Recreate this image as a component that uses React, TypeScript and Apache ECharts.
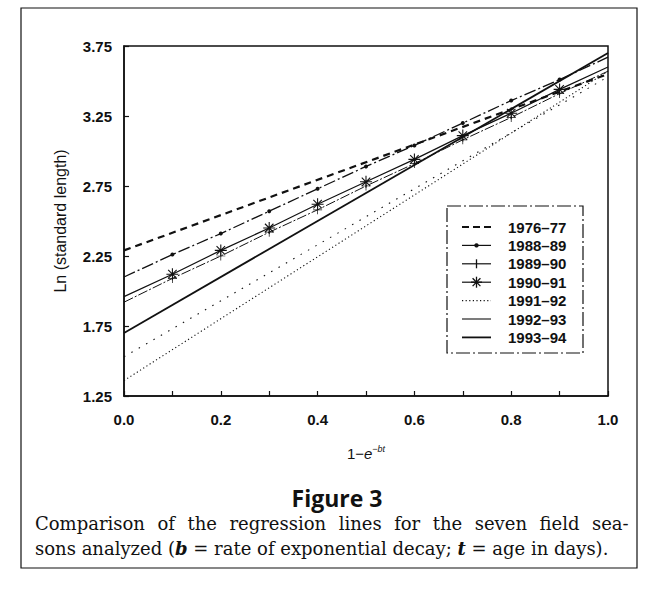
import React, { useEffect, useRef } from "react";
import * as echarts from "echarts";

// x positions of the regression-line vertices (0, 0.1, ..., 1.0)
const xSteps = [0, 0.1, 0.2, 0.3, 0.4, 0.5, 0.6, 0.7, 0.8, 0.9, 1.0];
const xEnds = [0, 1];

// Ln(standard length) values
const s1976 = [2.29, 3.55];
const s1988 = [2.1, 2.26, 2.41, 2.57, 2.73, 2.89, 3.04, 3.2, 3.36, 3.51, 3.67];
const s1989 = [1.92, 2.09, 2.25, 2.42, 2.58, 2.75, 2.91, 3.08, 3.24, 3.41, 3.57];
const s1990 = [1.96, 2.12, 2.29, 2.45, 2.62, 2.78, 2.94, 3.11, 3.27, 3.44, 3.6];
const s1991 = [1.36, 3.57];
const s1992 = [1.53, 3.53];
const s1993 = [1.7, 3.7];

const seasons = ["1976–77", "1988–89", "1989–90", "1990–91", "1991–92", "1992–93", "1993–94"];
const yTickLabels = ["1.25", "1.75", "2.25", "2.75", "3.25", "3.75"];
const xTickLabels = ["0.0", "0.2", "0.4", "0.6", "0.8", "1.0"];

const PLUS = "path://M0,9.2H20V10.8H0ZM9.2,0H10.8V20H9.2Z";
const STAR =
  "path://M0,9.1H20V10.9H0ZM9.1,0H10.9V20H9.1ZM3.57,2.29L17.71,16.43L16.43,17.71L2.29,3.57ZM16.43,2.29L17.71,3.57L3.57,17.71L2.29,16.43Z";

const INK = "#111";
const SANS = "'Liberation Sans', Arial, sans-serif";
const SERIF = "'DejaVu Serif', serif";

function pairs(xs: number[], ys: number[], markInner: boolean) {
  return xs.map((x, i) => {
    const item: any = { value: [x, ys[i]] };
    if (markInner && (i === 0 || i === xs.length - 1)) item.symbol = "none";
    return item;
  });
}

// legend drawing helpers
const LX0 = 462;
const LX1 = 491;
const LTEXT = 508;
const LY0 = 227;
const LDY = 18.4;

function legendItems(): any[] {
  const out: any[] = [];
  const kinds = ["dash", "dot", "plus", "star", "dotted", "thin", "thick"];
  kinds.forEach((k, i) => {
    const y = LY0 + i * LDY;
    const cx = (LX0 + LX1) / 2;
    let lineStyle: any = { stroke: INK, lineWidth: 1.2 };
    if (k === "dash") lineStyle = { stroke: INK, lineWidth: 2.2, lineDash: [7, 4] };
    if (k === "dotted") lineStyle = { stroke: INK, lineWidth: 1.2, lineDash: [1.2, 2.4] };
    if (k === "thin") lineStyle = { stroke: INK, lineWidth: 1.1 };
    if (k === "thick") lineStyle = { stroke: INK, lineWidth: 1.8 };
    out.push({ type: "line", shape: { x1: LX0, y1: y, x2: LX1, y2: y }, style: lineStyle, z: 6 });
    if (k === "dot") out.push({ type: "circle", shape: { cx, cy: y, r: 2.2 }, style: { fill: INK }, z: 6 });
    if (k === "plus")
      out.push({ type: "line", shape: { x1: cx, y1: y - 4.5, x2: cx, y2: y + 4.5 }, style: { stroke: INK, lineWidth: 1.3 }, z: 6 });
    if (k === "star") {
      const r = 5.5;
      const d = r * 0.7071;
      [
        [cx - r, y, cx + r, y],
        [cx, y - r, cx, y + r],
        [cx - d, y - d, cx + d, y + d],
        [cx - d, y + d, cx + d, y - d],
      ].forEach((p) =>
        out.push({ type: "line", shape: { x1: p[0], y1: p[1], x2: p[2], y2: p[3] }, style: { stroke: INK, lineWidth: 1.3 }, z: 6 })
      );
    }
    out.push({
      type: "text",
      x: LTEXT,
      y,
      style: { text: seasons[i], font: `bold 15px ${SANS}`, fill: INK, align: "left", verticalAlign: "middle" },
      z: 6,
    });
  });
  return out;
}

const captionLine1 = "Comparison of the regression lines for the seven field sea-";

export default function App() {
  const ref = useRef<HTMLDivElement>(null);
  useEffect(() => {
    document.body.style.margin = "0";
    const chart = echarts.init(ref.current!, null, { renderer: "svg" });
    const lineBase = { type: "line", animation: false, silent: true, z: 3 };
    const option: any = {
      animation: false,
      backgroundColor: "#fff",
      grid: {
        left: 124,
        top: 46,
        width: 484,
        height: 350,
        show: true,
        borderColor: INK,
        borderWidth: 1.5,
      },
      xAxis: {
        type: "value",
        min: 0,
        max: 1,
        interval: 0.1,
        axisLine: { show: true, lineStyle: { color: INK, width: 1.5 } },
        axisTick: { show: true, inside: true, length: 5, lineStyle: { color: INK, width: 1.2 } },
        splitLine: { show: false },
        axisLabel: {
          margin: 16,
          color: INK,
          fontFamily: SANS,
          fontWeight: "bold",
          fontSize: 15,
          formatter: (v: number) => {
            const k = Math.round(v * 10);
            return k % 2 === 0 ? xTickLabels[k / 2] : "";
          },
        },
        name: "1−{i|e}{s|−bt}",
        nameLocation: "middle",
        nameGap: 48,
        nameTextStyle: {
          color: INK,
          fontFamily: SANS,
          fontSize: 15,
          rich: {
            i: { fontFamily: SANS, fontSize: 15, fontStyle: "italic", color: INK },
            s: { fontFamily: SANS, fontSize: 9, fontStyle: "italic", color: INK, padding: [0, 0, 9, 0] },
          },
        },
      },
      yAxis: [
        {
          type: "value",
          min: 1.25,
          max: 3.75,
          interval: 0.25,
          axisLine: { show: true, lineStyle: { color: INK, width: 1.5 } },
          axisTick: { show: false },
          splitLine: { show: false },
          axisLabel: {
            margin: 12,
            color: INK,
            fontFamily: SANS,
            fontWeight: "bold",
            fontSize: 15,
            formatter: (v: number) => {
              const k = Math.round((v - 1.25) / 0.25);
              return k % 2 === 0 ? yTickLabels[k / 2] : "";
            },
          },
          name: "Ln (standard length)",
          nameLocation: "middle",
          nameGap: 56,
          nameTextStyle: { color: INK, fontFamily: SANS, fontSize: 16 },
        },
        {
          type: "value",
          min: 0,
          max: 5,
          interval: 1,
          position: "left",
          axisLine: { show: false },
          axisLabel: { show: false },
          splitLine: { show: false },
          axisTick: { show: true, inside: true, length: 5, lineStyle: { color: INK, width: 1.2 } },
        },
      ],
      graphic: [
        {
          type: "rect",
          shape: { x: 447, y: 206, width: 136, height: 147 },
          style: { fill: "#fff", stroke: INK, lineWidth: 1.2, lineDash: [14, 3, 2, 3] },
          z: 5,
        },
        ...legendItems(),
        {
          type: "rect",
          shape: { x: 21, y: 8, width: 616, height: 560 },
          style: { fill: "none", stroke: INK, lineWidth: 1.2 },
          z: 0,
          silent: true,
        },
        {
          type: "text",
          x: 337,
          y: 498,
          style: {
            text: "Figure 3",
            font: "bold 23px 'Open Sans', sans-serif",
            fill: INK,
            align: "center",
            verticalAlign: "middle",
          },
        },
        {
          type: "text",
          x: 35,
          y: 523,
          style: {
            text: captionLine1.split(" ").join("{sp| }"),
            font: `18px ${SERIF}`,
            fill: INK,
            align: "left",
            verticalAlign: "middle",
            rich: { sp: { font: `18px ${SERIF}`, width: 12.5 } },
          },
        },
        {
          type: "text",
          x: 35,
          y: 548,
          style: {
            text: "sons analyzed ({bi|b} = rate of exponential decay; {bi|t} = age in days).",
            font: `18px ${SERIF}`,
            fill: INK,
            align: "left",
            verticalAlign: "middle",
            rich: {
              bi: { font: `italic bold 18px ${SERIF}`, fill: INK },
            },
          },
        },
      ],
      series: [
        {
          ...lineBase,
          name: seasons[0],
          data: pairs(xEnds, s1976, false),
          symbol: "none",
          lineStyle: { color: INK, width: 2.2, type: [7, 5] },
          itemStyle: { color: INK },
        },
        {
          ...lineBase,
          name: seasons[1],
          data: pairs(xSteps, s1988, true),
          symbol: "circle",
          symbolSize: 4,
          showSymbol: true,
          lineStyle: { color: INK, width: 1.3, type: [12, 3, 2, 3] },
          itemStyle: { color: INK, borderWidth: 0 },
        },
        {
          ...lineBase,
          name: seasons[2],
          data: pairs(xSteps, s1989, true),
          symbol: PLUS,
          symbolSize: 9,
          showSymbol: true,
          lineStyle: { color: INK, width: 1, type: [10, 2, 2, 2] },
          itemStyle: { color: INK, borderWidth: 0 },
        },
        {
          ...lineBase,
          name: seasons[3],
          data: pairs(xSteps, s1990, true),
          symbol: STAR,
          symbolSize: 12,
          showSymbol: true,
          lineStyle: { color: INK, width: 1.2 },
          itemStyle: { color: INK, borderWidth: 0 },
        },
        {
          ...lineBase,
          name: seasons[4],
          data: pairs(xEnds, s1991, false),
          symbol: "none",
          lineStyle: { color: INK, width: 1.1, type: [1.2, 2.6] },
          itemStyle: { color: INK },
        },
        {
          ...lineBase,
          name: seasons[5],
          data: pairs(xEnds, s1992, false),
          symbol: "none",
          lineStyle: { color: INK, width: 1.1, type: [1.5, 7] },
          itemStyle: { color: INK },
        },
        {
          ...lineBase,
          name: seasons[6],
          data: pairs(xEnds, s1993, false),
          symbol: "none",
          lineStyle: { color: INK, width: 1.8 },
          itemStyle: { color: INK },
        },
      ],
    };
    chart.setOption(option);
    return () => chart.dispose();
  }, []);
  return (
    <div
      ref={ref}
      style={{ position: "absolute", left: 0, top: 0, width: 645, height: 602, background: "#fff" }}
    />
  );
}
